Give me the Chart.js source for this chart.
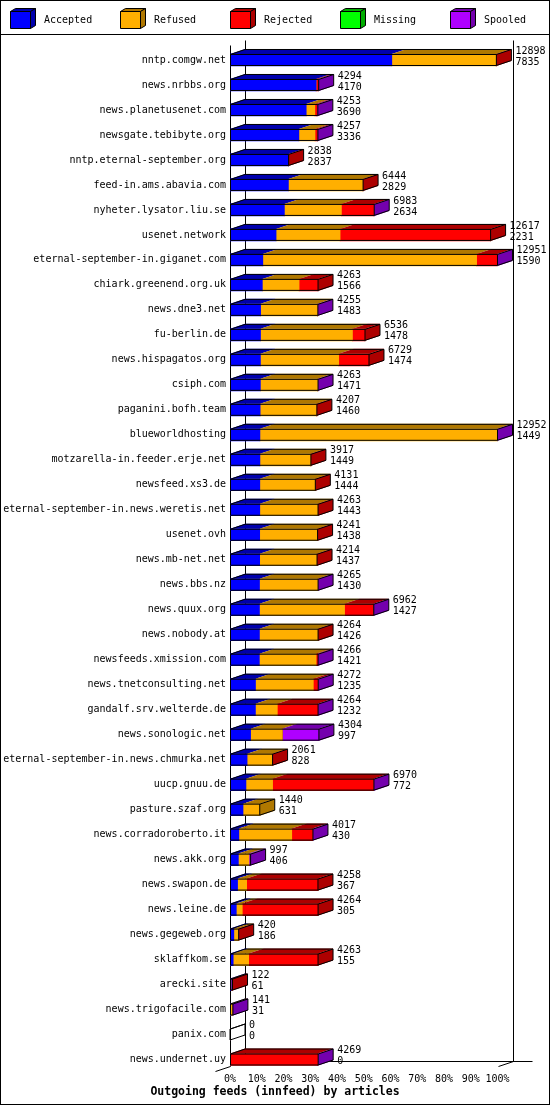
<!DOCTYPE html>
<html>
<head>
<meta charset="utf-8">
<script src="https://cdn.jsdelivr.net/npm/chart.js@4.4.1/dist/chart.umd.min.js"></script>
<style>
  html, body { margin: 0; padding: 0; background: #fff; }
  canvas { display: block; }
</style>
</head>
<body>
<canvas id="feeds" width="550" height="1105"></canvas>
<script>
const hosts = [
  "nntp.comgw.net", "news.nrbbs.org", "news.planetusenet.com", "newsgate.tebibyte.org",
  "nntp.eternal-september.org", "feed-in.ams.abavia.com", "nyheter.lysator.liu.se", "usenet.network",
  "eternal-september-in.giganet.com", "chiark.greenend.org.uk", "news.dne3.net", "fu-berlin.de",
  "news.hispagatos.org", "csiph.com", "paganini.bofh.team", "blueworldhosting",
  "motzarella-in.feeder.erje.net", "newsfeed.xs3.de", "eternal-september-in.news.weretis.net", "usenet.ovh",
  "news.mb-net.net", "news.bbs.nz", "news.quux.org", "news.nobody.at",
  "newsfeeds.xmission.com", "news.tnetconsulting.net", "gandalf.srv.welterde.de", "news.sonologic.net",
  "eternal-september-in.news.chmurka.net", "uucp.gnuu.de", "pasture.szaf.org", "news.corradoroberto.it",
  "news.akk.org", "news.swapon.de", "news.leine.de", "news.gegeweb.org",
  "sklaffkom.se", "arecki.site", "news.trigofacile.com", "panix.com", "news.undernet.uy"
]
const offered  = [12898, 4294, 4253, 4257, 2838, 6444, 6983, 12617, 12951, 4263, 4255, 6536, 6729, 4263, 4207, 12952, 3917, 4131, 4263, 4241, 4214, 4265, 6962, 4264, 4266, 4272, 4264, 4304, 2061, 6970, 1440, 4017, 997, 4258, 4264, 420, 4263, 122, 141, 0, 4269]
const accepted = [7835, 4170, 3690, 3336, 2837, 2829, 2634, 2231, 1590, 1566, 1483, 1478, 1474, 1471, 1460, 1449, 1449, 1444, 1443, 1438, 1437, 1430, 1427, 1426, 1421, 1235, 1232, 997, 828, 772, 631, 430, 406, 367, 305, 186, 155, 61, 31, 0, 0]
const refused  = [5043, 0, 420, 780, 0, 3600, 2760, 3100, 10350, 1780, 2760, 4450, 3790, 2780, 2730, 11490, 2460, 2680, 2810, 2790, 2760, 2822, 4120, 2826, 2750, 2800, 1060, 1530, 1225, 1290, 809, 2560, 505, 440, 290, 225, 750, 0, 70, 0, 0]
const rejected = [20, 100, 100, 120, 1, 15, 1580, 7286, 1000, 917, 0, 608, 1465, 0, 17, 0, 8, 7, 10, 13, 17, 0, 1400, 12, 80, 220, 1955, 0, 8, 4890, 0, 1010, 0, 3451, 3669, 9, 3358, 61, 0, 0, 4250]
const missing  = [0, 0, 0, 0, 0, 0, 0, 0, 0, 0, 0, 0, 0, 0, 0, 0, 0, 0, 0, 0, 0, 0, 0, 0, 0, 0, 0, 0, 0, 0, 0, 0, 0, 0, 0, 0, 0, 0, 0, 0, 0]
const spooled  = [0, 24, 43, 21, 0, 0, 9, 0, 11, 0, 12, 0, 0, 12, 0, 13, 0, 0, 0, 0, 0, 13, 15, 0, 15, 17, 17, 1777, 0, 18, 0, 17, 86, 0, 0, 0, 0, 0, 40, 0, 19]
const tickLabels = ["0%", "10%", "20%", "30%", "40%", "50%", "60%", "70%", "80%", "90%", "100%"]
const chartTitle = "Outgoing feeds (innfeed) by articles"

const MONO = "'DejaVu Sans Mono', monospace"
const DX = 15, DY = 5   // depth of the fake 3d

// bars are scaled against the biggest feed
const peak = Math.max(...offered)
const pct  = arr => arr.map(v => v / peak * 100)

const series = [
  { label: "Accepted", values: accepted, face: "#0000ff", shade: "#0000ad" },
  { label: "Refused",  values: refused,  face: "#ffaf00", shade: "#b07800" },
  { label: "Rejected", values: rejected, face: "#ff0000", shade: "#ad0000" },
  { label: "Missing",  values: missing,  face: "#00ff00", shade: "#00ad00" },
  { label: "Spooled",  values: spooled,  face: "#af00ff", shade: "#7400ad" },
]

function poly(ctx, pts, fill, stroke) {
  ctx.beginPath()
  pts.forEach(([px, py], k) => k ? ctx.lineTo(px, py) : ctx.moveTo(px, py))
  ctx.closePath()
  if (fill)   { ctx.fillStyle = fill; ctx.fill() }
  if (stroke) { ctx.strokeStyle = stroke; ctx.stroke() }
}

function line(ctx, x1, y1, x2, y2) {
  ctx.beginPath()
  ctx.moveTo(x1, y1)
  ctx.lineTo(x2, y2)
  ctx.stroke()
}

const box3d = {
  id: "box3d",

  beforeDraw(chart) {
    const { ctx, width, height } = chart
    ctx.save()
    ctx.fillStyle = "#fff"
    ctx.fillRect(0, 0, width, height)
    ctx.strokeStyle = "#000"
    ctx.lineWidth = 1
    ctx.strokeRect(0.5, 0.5, width - 1, height - 1)
    line(ctx, 0, 34.5, width, 34.5)

    // legend with little cubes
    ctx.font = "10px " + MONO
    ctx.textBaseline = "middle"
    ctx.textAlign = "left"
    series.forEach((s, k) => {
      const bx = 10.5 + k * 110, by = 11.5, bw = 20, bh = 17, d = 5, e = 3
      poly(ctx, [[bx, by], [bx + d, by - e], [bx + bw + d, by - e], [bx + bw, by]], s.shade, "#000")
      poly(ctx, [[bx + bw, by], [bx + bw + d, by - e], [bx + bw + d, by + bh - e], [bx + bw, by + bh]], s.shade, "#000")
      poly(ctx, [[bx, by], [bx + bw, by], [bx + bw, by + bh], [bx, by + bh]], s.face, "#000")
      ctx.fillStyle = "#000"
      ctx.fillText(s.label, 44 + k * 110, 20.5)
    })

    ctx.font = "bold 11.5px " + MONO
    ctx.textAlign = "center"
    ctx.fillText(chartTitle, width / 2, 1092)
    ctx.restore()
  },

  beforeDatasetsDraw(chart) {
    const { ctx, scales: { x, y } } = chart
    const x0 = Math.round(x.getPixelForValue(0)) + 0.5
    const x1 = Math.round(x.getPixelForValue(100)) + 0.5
    const yTop = Math.round(y.getPixelForValue(0)) - 14.5
    const yBot = Math.round(y.getPixelForValue(hosts.length - 1)) + 6.5
    ctx.save()
    ctx.strokeStyle = "#000"
    ctx.lineWidth = 1
    line(ctx, x0, yTop, x0, yBot)
    line(ctx, x0 + DX, yTop - DY, x0 + DX, yBot - DY)
    line(ctx, x1 + DX, yTop - DY, x1 + DX, yBot - DY)
    line(ctx, x0 + DX, yBot - DY, x1 + DX + 19, yBot - DY)
    line(ctx, x1, yBot, x1 + DX, yBot - DY)
    line(ctx, x0 - DX, yBot + DY, x0, yBot)
    ctx.restore()
  },

  afterDatasetsDraw(chart) {
    const { ctx, scales: { x } } = chart
    const xs = Math.round(x.getPixelForValue(0))
    ctx.save()
    ctx.lineWidth = 1
    ctx.font = "10px " + MONO
    ctx.textAlign = "left"
    ctx.textBaseline = "middle"

    hosts.forEach((host, i) => {
      const first = chart.getDatasetMeta(0).data[i]
      const yc = first.y
      const top = yc - first.height / 2, bot = yc + first.height / 2
      const segs = []
      series.forEach((s, k) => {
        if (s.values[i] > 0) {
          const el = chart.getDatasetMeta(k).data[i]
          segs.push({ a: Math.min(el.base, el.x), b: Math.max(el.base, el.x), shade: s.shade })
        }
      })
      const xe = segs.length ? segs[segs.length - 1].b : xs

      // top faces, one per segment
      segs.forEach(sg => {
        poly(ctx, [[sg.a, top], [sg.b, top], [sg.b + DX, top - DY], [sg.a + DX, top - DY]], sg.shade)
      })
      // right face takes the colour of the last segment
      if (segs.length) {
        poly(ctx, [[xe, top], [xe + DX, top - DY], [xe + DX, bot - DY], [xe, bot]], segs[segs.length - 1].shade)
      }

      // outline
      const t = top + 0.5, bt = bot - 0.5
      ctx.strokeStyle = "#000"
      poly(ctx, [[xs + 0.5, bt], [xs + 0.5, t], [xs + DX, t - DY], [xe + DX, t - DY], [xe + DX, bt - DY], [xe, bt]], null, "#000")
      line(ctx, xs, t, xe, t)
      line(ctx, xe, t, xe + DX, t - DY)
      line(ctx, xe, t, xe, bt)

      ctx.fillStyle = "#000"
      ctx.fillText(String(offered[i]), xe + 19, yc - 9)
      ctx.fillText(String(accepted[i]), xe + 19, yc + 2)
    })
    ctx.restore()
  }
}

new Chart(document.getElementById("feeds"), {
  type: "bar",
  data: {
    labels: hosts,
    datasets: series.map(s => ({
      label: s.label,
      data: pct(s.values),
      backgroundColor: s.face,
      borderWidth: 0,
      barThickness: 12,
    }))
  },
  options: {
    indexAxis: "y",
    responsive: false,
    animation: false,
    devicePixelRatio: 1,
    layout: { padding: { left: 0, right: 52.5, top: 47.5, bottom: 19 } },
    plugins: {
      legend:  { display: false },
      title:   { display: false },
      tooltip: { enabled: false },
    },
    scales: {
      x: {
        stacked: true,
        min: 0,
        max: 100,
        grid:   { display: false, drawTicks: false },
        border: { display: false },
        ticks: {
          stepSize: 10,
          autoSkip: false,
          maxRotation: 0,
          padding: 1,
          color: "#000",
          font: { family: MONO, size: 10 },
          callback: (v, k) => tickLabels[k],
        },
        afterFit: scale => { scale.height = 14 },
      },
      y: {
        stacked: true,
        grid:   { display: false, drawTicks: false },
        border: { display: false },
        ticks: {
          autoSkip: false,
          padding: 4,
          color: "#000",
          font: { family: MONO, size: 10 },
        },
        afterFit: scale => { scale.width = 230 },
      }
    }
  },
  plugins: [box3d]
})
</script>
</body>
</html>
